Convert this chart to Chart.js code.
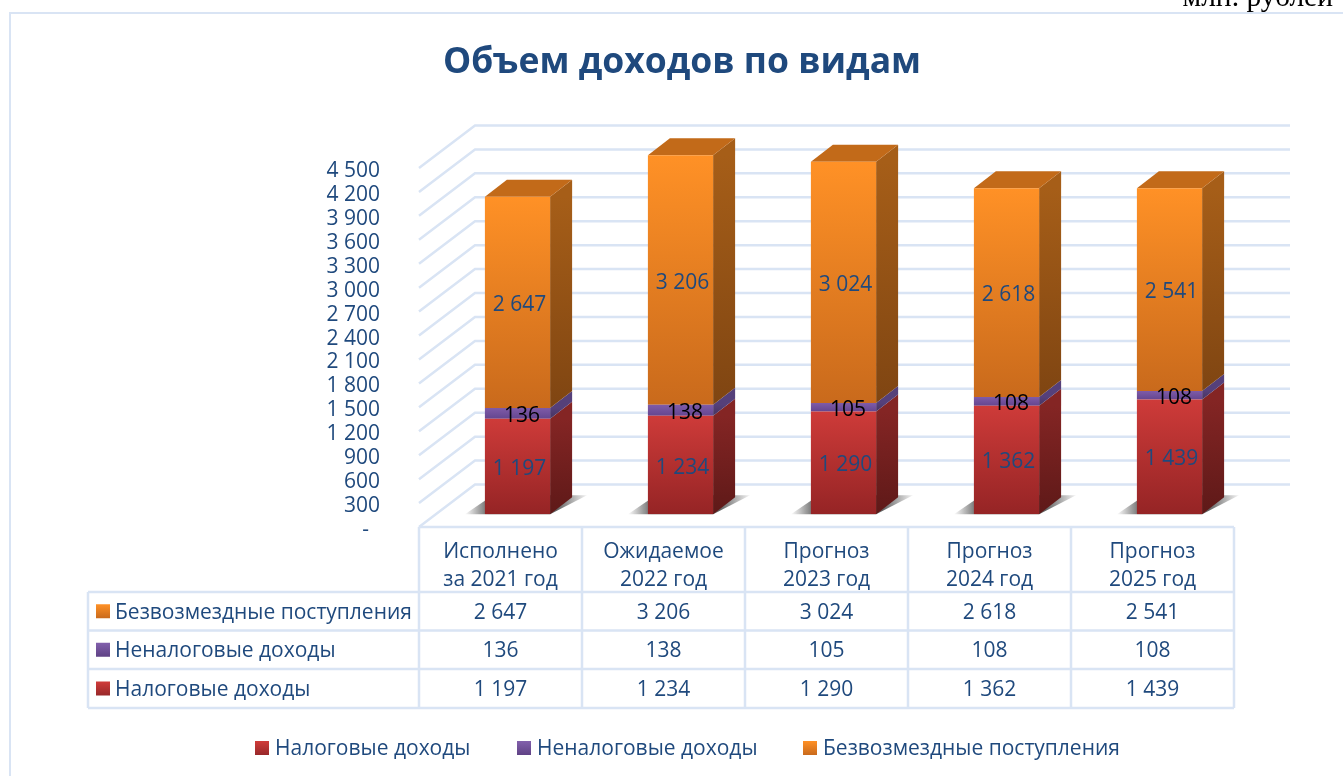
<!DOCTYPE html>
<html lang="ru">
<head>
<meta charset="utf-8">
<title>Объем доходов по видам</title>
<script src="https://cdn.jsdelivr.net/npm/chart.js@4"></script>
<style>
    html, body { margin: 0; padding: 0; background: #fff; overflow: hidden; }
    #wrap { position: relative; width: 1343px; height: 776px; }
    canvas { display: block; }
</style>
</head>
<body>
<div id="wrap"><canvas id="revenue-chart" width="1343" height="776"></canvas></div>
<script>
// Chart values, million rubles
const categories = [['Исполнено', 'за 2021 год'], ['Ожидаемое', '2022 год'], ['Прогноз', '2023 год'], ['Прогноз', '2024 год'], ['Прогноз', '2025 год']];
const taxIncome = [1197, 1234, 1290, 1362, 1439];
const nonTaxIncome = [136, 138, 105, 108, 108];
const grants = [2647, 3206, 3024, 2618, 2541];
const seriesNames = ['Налоговые доходы', 'Неналоговые доходы', 'Безвозмездные поступления'];
const yMax = 4500;
const yStep = 300;

const FONT = '"Open Sans", sans-serif';
const TEXT_SIZE = 21;
const BLUE = '#1F497D';
const GRID = '#D9E4F4';

// Front / side / top colours per series
const palette = [
    { front: ['#CE3B39', '#952425'], side: ['#842524', '#5E1918'], legend: ['#D03C3A', '#98282A'] },
    { front: ['#7F5BA8', '#644690'], side: ['#55407A', '#46335F'], legend: ['#8260AC', '#5F4285'] },
    { front: ['#FF9126', '#C96A1C'], side: ['#A65E18', '#7F4512'], top: '#C26A19', legend: ['#FF9126', '#C96A1C'] }
];

// Pseudo-3D offsets: the wall behind the plot and the bars inside the box
const wall = { dx: 56, dy: -42.5 };
const barShift = { dx: 17, dy: -12.7 };
const barDepth = { dx: 22, dy: -17 };

const formatNumber = v => String(v).replace(/\B(?=(\d{3})+$)/g, ' ');

function segmentGradient(context, seriesIndex) {
    const chart = context.chart;
    const y = chart.scales.y;
    const flat = palette[seriesIndex].front[0];
    if (!y || context.dataIndex === undefined) return flat;
    const stacks = [taxIncome, nonTaxIncome, grants];
    let base = 0;
    for (let i = 0; i < seriesIndex; i++) base += stacks[i][context.dataIndex];
    const top = Math.min(base + stacks[seriesIndex][context.dataIndex], yMax);
    const y0 = y.getPixelForValue(top);
    const y1 = y.getPixelForValue(base);
    if (!Number.isFinite(y0) || !Number.isFinite(y1)) return flat;
    const g = chart.ctx.createLinearGradient(0, y0, 0, y1);
    g.addColorStop(0, palette[seriesIndex].front[0]);
    g.addColorStop(1, palette[seriesIndex].front[1]);
    return g;
}

function drawSwatch(ctx, x, y, size, colors) {
    const g = ctx.createLinearGradient(0, y, 0, y + size);
    g.addColorStop(0, colors[0]);
    g.addColorStop(1, colors[1]);
    ctx.fillStyle = g;
    ctx.fillRect(x, y, size, size);
}

// Gridlines on the back wall and the left wall, from the y scale ticks
const wallsPlugin = {
    id: 'walls',
    beforeDatasetsDraw(chart) {
        const { ctx, scales: { x, y }, chartArea } = chart;
        ctx.save();
        ctx.strokeStyle = GRID;
        ctx.lineWidth = 2.5;
        y.ticks.forEach((tick, i) => {
            const py = y.getPixelForTick(i);
            ctx.beginPath();
            ctx.moveTo(chartArea.left, py);
            ctx.lineTo(chartArea.left + wall.dx, py + wall.dy);
            ctx.lineTo(chartArea.right + wall.dx, py + wall.dy);
            ctx.stroke();
        });
        ctx.restore();

        // Bars are translated into the box, restored in afterDatasetsDraw
        ctx.save();
        ctx.translate(barShift.dx, barShift.dy);
        const metas = chart.getSortedVisibleDatasetMetas();
        metas[0].data.forEach(bar => {
            const right = bar.x + bar.width / 2;
            const left = bar.x - bar.width / 2;
            const g = ctx.createLinearGradient(left - 20, 0, right + 37, 0);
            g.addColorStop(0, 'rgba(70,70,70,0)');
            g.addColorStop(0.2, 'rgba(70,70,70,0.85)');
            g.addColorStop(0.75, 'rgba(70,70,70,0.85)');
            g.addColorStop(1, 'rgba(70,70,70,0.05)');
            ctx.fillStyle = g;
            ctx.beginPath();
            ctx.moveTo(left - 20, bar.base);
            ctx.lineTo(left + 8, bar.base - 19);
            ctx.lineTo(right + 37, bar.base - 19);
            ctx.lineTo(right, bar.base);
            ctx.closePath();
            ctx.fill();
        });
        metas.forEach((meta, s) => {
            meta.data.forEach(bar => {
                const right = bar.x + bar.width / 2;
                const left = bar.x - bar.width / 2;
                // The axis stops at yMax, so a taller stack is cut off there
                const topY = Math.max(bar.y, chartArea.top);
                const g = ctx.createLinearGradient(0, topY, 0, bar.base);
                g.addColorStop(0, palette[s].side[0]);
                g.addColorStop(1, palette[s].side[1]);
                ctx.fillStyle = g;
                ctx.beginPath();
                ctx.moveTo(right, topY);
                ctx.lineTo(right + barDepth.dx, topY + barDepth.dy);
                ctx.lineTo(right + barDepth.dx, bar.base + barDepth.dy);
                ctx.lineTo(right, bar.base);
                ctx.closePath();
                ctx.fill();
                if (palette[s].top) {
                    ctx.fillStyle = palette[s].top;
                    ctx.beginPath();
                    ctx.moveTo(left, topY);
                    ctx.lineTo(left + barDepth.dx, topY + barDepth.dy);
                    ctx.lineTo(right + barDepth.dx, topY + barDepth.dy);
                    ctx.lineTo(right, topY);
                    ctx.closePath();
                    ctx.fill();
                }
            });
        });
    },
    afterDatasetsDraw(chart) {
        const { ctx, chartArea } = chart;
        ctx.textAlign = 'center';
        ctx.textBaseline = 'middle';
        ctx.font = TEXT_SIZE + 'px ' + FONT;
        chart.getSortedVisibleDatasetMetas().forEach((meta, s) => {
            const values = chart.data.datasets[s].data;
            meta.data.forEach((bar, i) => {
                const topY = Math.max(bar.y, chartArea.top);
                ctx.fillStyle = s === 1 ? '#000' : BLUE;
                ctx.fillText(formatNumber(values[i]), bar.x + (s === 1 ? 4.5 : 2), (topY + bar.base) / 2 + 2.5);
            });
        });
        ctx.restore();
    }
};

// Title, unit note, chart frame, data table and legend
const sheetPlugin = {
    id: 'sheet',
    afterDraw(chart) {
        const { ctx, scales: { x }, chartArea } = chart;
        ctx.save();

        ctx.strokeStyle = GRID;
        ctx.lineWidth = 2;
        ctx.beginPath();
        ctx.moveTo(10, 776);
        ctx.lineTo(10, 13);
        ctx.lineTo(1343, 13);
        ctx.stroke();

        ctx.fillStyle = '#000';
        ctx.font = '29.5px "Liberation Serif", serif';
        ctx.textAlign = 'right';
        ctx.textBaseline = 'alphabetic';
        ctx.fillText('млн. рублей', 1333, 6);

        ctx.fillStyle = BLUE;
        ctx.font = 'bold 35.5px ' + FONT;
        ctx.textAlign = 'center';
        ctx.textBaseline = 'middle';
        ctx.fillText('Объем доходов по видам', 682, 63);

        // Data table
        const rowLines = [592, 630.5, 669, 708];
        const tableLeft = 88;
        const tableRows = [
            { name: seriesNames[2], values: grants, colors: palette[2].legend },
            { name: seriesNames[1], values: nonTaxIncome, colors: palette[1].legend },
            { name: seriesNames[0], values: taxIncome, colors: palette[0].legend }
        ];
        ctx.strokeStyle = GRID;
        ctx.lineWidth = 2.5;
        ctx.beginPath();
        ctx.moveTo(chartArea.left, chartArea.bottom);
        ctx.lineTo(chartArea.right, chartArea.bottom);
        rowLines.forEach(ly => {
            ctx.moveTo(tableLeft, ly);
            ctx.lineTo(chartArea.right, ly);
        });
        ctx.moveTo(tableLeft, rowLines[0]);
        ctx.lineTo(tableLeft, rowLines[3]);
        for (let i = 0; i <= categories.length; i++) {
            const lx = chartArea.left + (chartArea.right - chartArea.left) * i / categories.length;
            ctx.moveTo(lx, chartArea.bottom);
            ctx.lineTo(lx, rowLines[3]);
        }
        ctx.stroke();

        ctx.font = TEXT_SIZE + 'px ' + FONT;
        tableRows.forEach((row, r) => {
            const cy = (rowLines[r] + rowLines[r + 1]) / 2;
            drawSwatch(ctx, 96, cy - 7, 14, row.colors);
            ctx.fillStyle = BLUE;
            ctx.textAlign = 'left';
            ctx.fillText(row.name, 115, cy + 1.5);
            ctx.textAlign = 'center';
            row.values.forEach((v, i) => {
                ctx.fillText(formatNumber(v), x.getPixelForTick(i), cy + 1.5);
            });
        });

        // Legend
        const legendX = [255, 517, 803];
        seriesNames.forEach((name, s) => {
            drawSwatch(ctx, legendX[s], 741, 14, palette[s].legend);
            ctx.fillStyle = BLUE;
            ctx.textAlign = 'left';
            ctx.fillText(name, legendX[s] + 20, 749);
        });
        ctx.restore();
    }
};

new Chart(document.getElementById('revenue-chart'), {
    type: 'bar',
    data: {
        labels: categories,
        datasets: [
            { label: seriesNames[0], data: taxIncome, backgroundColor: c => segmentGradient(c, 0) },
            { label: seriesNames[1], data: nonTaxIncome, backgroundColor: c => segmentGradient(c, 1) },
            { label: seriesNames[2], data: grants, backgroundColor: c => segmentGradient(c, 2) }
        ]
    },
    options: {
        responsive: false,
        animation: false,
        layout: { padding: { top: 168, right: 109, left: 0, bottom: 0 } },
        datasets: { bar: { categoryPercentage: 0.4, barPercentage: 1 } },
        plugins: { legend: { display: false }, title: { display: false }, tooltip: { enabled: false } },
        scales: {
            x: {
                stacked: true,
                afterFit: scale => { scale.height = 249; },
                grid: { display: false },
                border: { display: false },
                ticks: { color: BLUE, font: { family: FONT, size: TEXT_SIZE, lineHeight: 1.33 }, padding: 3, maxRotation: 0, autoSkip: false }
            },
            y: {
                stacked: true,
                min: 0,
                max: yMax,
                afterFit: scale => { scale.width = 419; },
                grid: { display: false, drawTicks: false },
                border: { display: false },
                ticks: {
                    stepSize: yStep,
                    autoSkip: false,
                    color: BLUE,
                    padding: 39,
                    labelOffset: 3,
                    font: { family: FONT, size: TEXT_SIZE },
                    callback: v => v === 0 ? '-  ' : formatNumber(v)
                }
            }
        }
    },
    plugins: [wallsPlugin, sheetPlugin]
});
</script>
</body>
</html>
